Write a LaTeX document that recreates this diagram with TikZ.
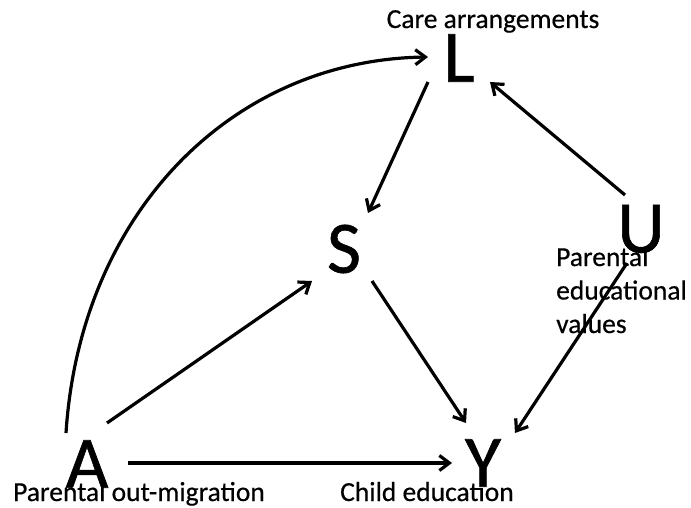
\documentclass[tikz,border=0pt]{standalone}
\usepackage{fontspec}
\setmainfont{Carlito}
\newfontfamily\letterfont{Carlito}[FakeBold=0.8]
\newfontfamily\labelfont{Carlito}[FakeBold=0.5]
\usetikzlibrary{arrows.meta}
\begin{document}
\begin{tikzpicture}[x=1pt,y=1pt,
  var/.style={inner sep=0pt, font=\letterfont\fontsize{74}{80}\selectfont},
  lbl/.style={inner sep=0pt, font=\labelfont\fontsize{27.5}{33.5}\selectfont},
  edge/.style={line width=3.2pt, -{Straight Barb[length=10pt,width=15pt]}}]
\useasboundingbox (0,0) rectangle (691,507);

% variables of the causal graph
\node[var] (L) at (459,449) {L};
\node[var] (S) at (344,258) {S};
\node[var] (U) at (641,278) {U};
\node[var] (Y) at (483,44) {Y};
\node[var] (A) at (87,43) {A};

% descriptions
\node[lbl, anchor=base] (Llab) at (493,479) {Care arrangements};
\node[lbl, anchor=base west] (Alab) at (13,6) {Parental out-migration};
\node[lbl, anchor=base west] (Ylab) at (340,6) {Child education};
\node[lbl, anchor=base west, align=left] (Ulab) at (556,174) {Parental\\educational\\values};

% causal arrows
\draw[edge] ([shift={(-21,31)}]A.center) .. controls +(14,218) and +(-198,-3) .. ([shift={(-31,1)}]L.center);
\draw[edge] ([shift={(20,41)}]A.center) -- ([shift={(-32,-32)}]S.center);
\draw[edge] ([shift={(41,1)}]A.center) -- ([shift={(-31,0)}]Y.center);
\draw[edge] ([shift={(-31,-24)}]L.center) -- ([shift={(24,36)}]S.center);
\draw[edge] ([shift={(-16,34)}]U.center) -- ([shift={(31,-24)}]L.center);
\draw[edge] ([shift={(28,-32)}]S.center) -- ([shift={(-17,40)}]Y.center);
\draw[edge] ([shift={(-14,-34)}]U.center) -- ([shift={(32,30)}]Y.center);
\end{tikzpicture}
\end{document}
